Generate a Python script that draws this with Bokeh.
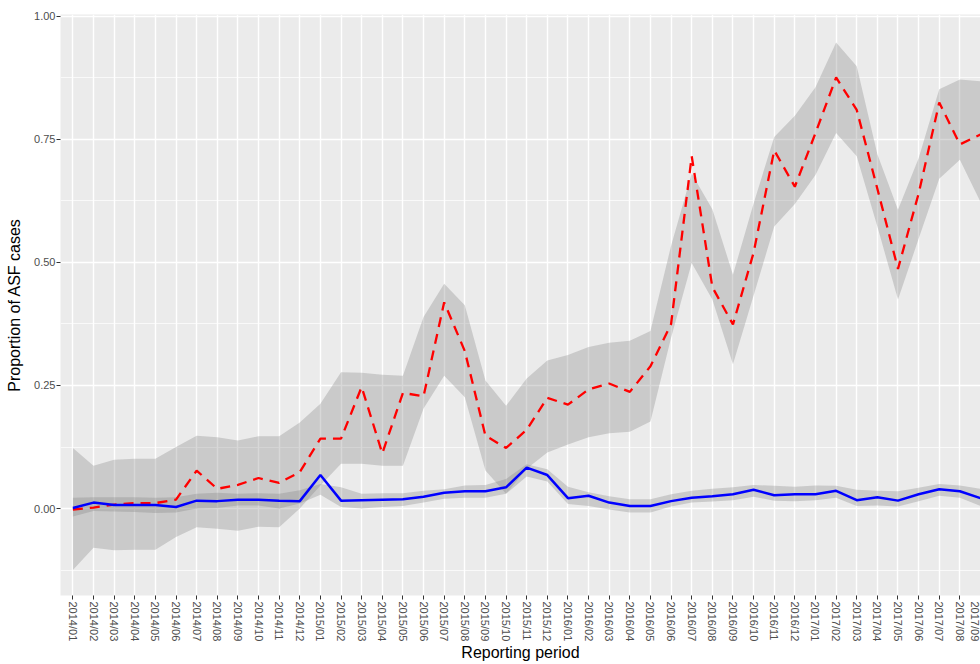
from bokeh.plotting import figure
from bokeh.models import FixedTicker, Range1d, PrintfTickFormatter
from bokeh.embed import file_html
from bokeh.resources import INLINE

periods = [f"{y}/{m:02d}" for y in (2014, 2015, 2016, 2017) for m in range(1, 13)][:45]

asf_rate = [-0.002, 0.002, 0.008, 0.011, 0.011, 0.018, 0.077, 0.040, 0.048, 0.062,
            0.052, 0.074, 0.142, 0.142, 0.247, 0.112, 0.235, 0.228, 0.419, 0.320,
            0.148, 0.123, 0.160, 0.225, 0.211, 0.242, 0.254, 0.237, 0.289, 0.375,
            0.716, 0.450, 0.374, 0.520, 0.728, 0.654, 0.763, 0.876, 0.810, 0.650,
            0.487, 0.640, 0.825, 0.740, 0.760]
asf_upper = [0.123, 0.087, 0.099, 0.101, 0.101, 0.125, 0.148, 0.145, 0.138, 0.147,
             0.147, 0.175, 0.213, 0.277, 0.276, 0.272, 0.270, 0.389, 0.457, 0.413,
             0.260, 0.209, 0.264, 0.301, 0.312, 0.328, 0.337, 0.341, 0.361, 0.534,
             0.681, 0.608, 0.475, 0.620, 0.755, 0.798, 0.856, 0.947, 0.899, 0.720,
             0.607, 0.712, 0.852, 0.872, 0.868]
asf_lower = [-0.125, -0.080, -0.085, -0.084, -0.084, -0.058, -0.038, -0.041, -0.045, -0.037,
             -0.038, 0.000, 0.047, 0.091, 0.091, 0.087, 0.087, 0.203, 0.270, 0.226,
             0.077, 0.030, 0.081, 0.114, 0.130, 0.145, 0.153, 0.156, 0.177, 0.347,
             0.499, 0.425, 0.293, 0.433, 0.573, 0.619, 0.678, 0.763, 0.716, 0.573,
             0.425, 0.548, 0.670, 0.709, 0.623]

base_rate = [0.001, 0.012, 0.007, 0.007, 0.007, 0.003, 0.016, 0.015, 0.018, 0.018,
             0.016, 0.015, 0.068, 0.016, 0.017, 0.018, 0.019, 0.024, 0.032, 0.035,
             0.035, 0.043, 0.083, 0.068, 0.021, 0.026, 0.012, 0.005, 0.005, 0.015,
             0.022, 0.025, 0.029, 0.038, 0.027, 0.029, 0.029, 0.036, 0.017, 0.023,
             0.016, 0.029, 0.039, 0.035, 0.021]
base_upper = [0.022, 0.023, 0.023, 0.023, 0.022, 0.023, 0.030, 0.032, 0.030, 0.031,
              0.030, 0.037, 0.050, 0.043, 0.030, 0.031, 0.031, 0.036, 0.039, 0.047,
              0.048, 0.060, 0.090, 0.080, 0.044, 0.033, 0.025, 0.019, 0.019, 0.029,
              0.036, 0.040, 0.043, 0.048, 0.046, 0.044, 0.047, 0.046, 0.038, 0.036,
              0.035, 0.042, 0.050, 0.047, 0.040]
base_lower = [-0.016, -0.005, -0.006, -0.007, -0.009, -0.008, 0.000, 0.001, 0.006, 0.006,
              0.000, 0.010, 0.028, 0.003, 0.000, 0.003, 0.005, 0.012, 0.020, 0.022,
              0.022, 0.030, 0.065, 0.055, 0.009, 0.005, -0.002, -0.008, -0.008, 0.004,
              0.012, 0.014, 0.017, 0.024, 0.016, 0.015, 0.017, 0.022, 0.005, 0.006,
              0.004, 0.015, 0.026, 0.022, 0.005]

y_ticks = [0.0, 0.25, 0.5, 0.75, 1.0]
y_minor = [-0.125, 0.125, 0.375, 0.625, 0.875]

x = list(range(len(periods)))
FONT = "Liberation Sans"

p = figure(width=980, height=664, output_backend="svg", toolbar_location=None,
           x_range=Range1d(-0.6, 44.0), y_range=Range1d(-0.1768, 1.004),
           min_border_left=60, min_border_right=0, min_border_top=14, min_border_bottom=67)
p.background_fill_color = "#EBEBEB"
p.border_fill_color = "white"
p.outline_line_color = None

p.varea(x=x, y1=asf_lower, y2=asf_upper, fill_color="#7F7F7F", fill_alpha=0.3)
p.varea(x=x, y1=base_lower, y2=base_upper, fill_color="#7F7F7F", fill_alpha=0.3)
p.line(x, asf_rate, line_color="#FF0000", line_width=2.3, line_dash="10 7")
p.line(x, base_rate, line_color="#0000FF", line_width=2.5)

# grids
p.xgrid.ticker = FixedTicker(ticks=x)
p.xgrid.grid_line_color = "white"
p.xgrid.grid_line_width = 1.4
p.ygrid.ticker = FixedTicker(ticks=y_ticks, minor_ticks=y_minor)
p.ygrid.grid_line_color = "white"
p.ygrid.grid_line_width = 1.4
p.ygrid.minor_grid_line_color = "white"
p.ygrid.minor_grid_line_width = 0.7

# x axis
xa = p.xaxis[0]
xa.ticker = FixedTicker(ticks=x)
xa.major_label_overrides = {i: lab for i, lab in zip(x, periods)}
xa.major_label_orientation = "vertical"
xa.axis_line_color = None
xa.major_tick_line_color = "#333333"
xa.major_tick_out = 4
xa.major_tick_in = 0
xa.minor_tick_line_color = None
xa.major_label_standoff = 2
xa.major_label_text_font = FONT
xa.major_label_text_font_size = "11px"
xa.major_label_text_color = "#4D4D4D"
xa.axis_label = "Reporting period"
xa.axis_label_text_font = FONT
xa.axis_label_text_font_size = "16px"
xa.axis_label_text_font_style = "normal"
xa.axis_label_text_color = "black"
xa.axis_label_standoff = 0

# y axis
ya = p.yaxis[0]
ya.ticker = FixedTicker(ticks=y_ticks, minor_ticks=y_minor)
ya.formatter = PrintfTickFormatter(format="%.2f")
ya.axis_line_color = None
ya.major_tick_line_color = "#333333"
ya.major_tick_out = 4
ya.major_tick_in = 0
ya.minor_tick_line_color = None
ya.major_label_standoff = 1
ya.major_label_text_font = FONT
ya.major_label_text_font_size = "11px"
ya.major_label_text_color = "#4D4D4D"
ya.axis_label = "Proportion of ASF cases"
ya.axis_label_text_font = FONT
ya.axis_label_text_font_size = "16px"
ya.axis_label_text_font_style = "normal"
ya.axis_label_text_color = "black"
ya.axis_label_standoff = 8

open("out.html", "w").write(file_html(p, INLINE))
